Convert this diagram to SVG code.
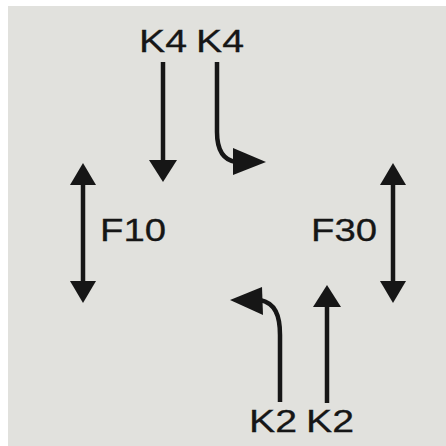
<svg xmlns="http://www.w3.org/2000/svg" width="446" height="446" viewBox="0 0 446 446">
  <style>
    .lbl { font-family: "Liberation Sans", Arial, sans-serif; font-size: 32px; fill: #161616; stroke: #161616; stroke-width: 0.3; }
    .shaft { fill: none; stroke: #161616; stroke-width: 4.5; }
    .head { fill: #161616; }
  </style>
  <rect x="0" y="0" width="446" height="446" fill="#ffffff"/>
  <rect x="8" y="6" width="438" height="440" fill="#e1e1dd"/>

  <!-- Labels -->
  <g id="k4-left"><text class="lbl" x="139" y="52" textLength="48" lengthAdjust="spacingAndGlyphs">K4</text></g>
  <g id="k4-right"><text class="lbl" x="196" y="52" textLength="48" lengthAdjust="spacingAndGlyphs">K4</text></g>
  <g id="f10"><text class="lbl" x="100" y="241" textLength="66" lengthAdjust="spacingAndGlyphs">F10</text></g>
  <g id="f30"><text class="lbl" x="311" y="241" textLength="66" lengthAdjust="spacingAndGlyphs">F30</text></g>
  <g id="k2-left"><text class="lbl" x="249" y="432" textLength="48" lengthAdjust="spacingAndGlyphs">K2</text></g>
  <g id="k2-right"><text class="lbl" x="306" y="432" textLength="48" lengthAdjust="spacingAndGlyphs">K2</text></g>

  <!-- Movement arrows -->
  <g id="connectors">
    <!-- K4 straight down -->
    <line class="shaft" x1="163" y1="62" x2="163" y2="162"/>
    <polygon class="head" points="149,160 177,160 163,182"/>
    <!-- K4 turning right -->
    <path class="shaft" d="M217,62 L217,132 C217,150 223,160 236,162"/>
    <polygon class="head" points="233,148 233,175 266,162"/>
    <!-- F10 both ways -->
    <line class="shaft" x1="83" y1="183" x2="83" y2="283"/>
    <polygon class="head" points="83,163 70,185 96,185"/>
    <polygon class="head" points="70,281 96,281 83,303"/>
    <!-- F30 both ways -->
    <line class="shaft" x1="393" y1="183" x2="393" y2="283"/>
    <polygon class="head" points="393,163 380,185 406,185"/>
    <polygon class="head" points="380,281 406,281 393,303"/>
    <!-- K2 turning left -->
    <path class="shaft" d="M280,402 L280,335 C280,315 275,303 260,300"/>
    <polygon class="head" points="262,287 263,315 230,300"/>
    <!-- K2 straight up -->
    <line class="shaft" x1="327" y1="403" x2="327" y2="304"/>
    <polygon class="head" points="327,285 313,307 341,307"/>
  </g>
</svg>
